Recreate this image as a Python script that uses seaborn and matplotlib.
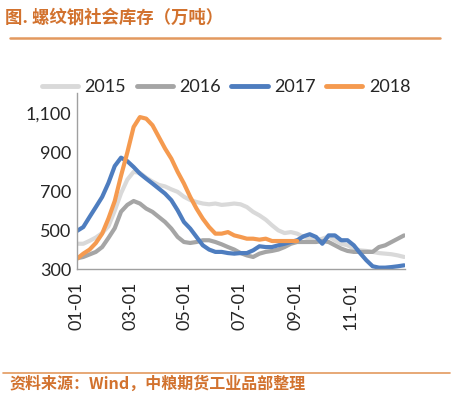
import numpy as np
import pandas as pd
import matplotlib.pyplot as plt
import matplotlib.dates as mdates
import seaborn as sns

# weekly rebar social inventory (10k tons)
v2015 = [430, 430, 445, 462, 485, 520, 600, 690, 760, 800, 795, 770, 750, 733, 725, 710, 697, 672,
         655, 645, 637, 633, 637, 630, 633, 637, 633, 619, 594, 576, 554, 525, 499, 485, 490, 482,
         465, 456, 448, 456, 468, 448, 430, 422, 405, 396, 393, 388, 382, 379, 376, 370, 362]
v2016 = [355, 362, 375, 388, 413, 460, 510, 595, 630, 650, 637, 611, 594, 568, 542, 508, 465, 439,
         434, 439, 448, 448, 439, 427, 413, 400, 382, 370, 362, 379, 388, 393, 400, 413, 430, 439,
         439, 439, 439, 444, 439, 422, 405, 393, 388, 388, 388, 388, 413, 422, 439, 456, 473]
v2017 = [496, 516, 568, 619, 671, 743, 830, 873, 855, 825, 791, 765, 740, 714, 688, 654, 602, 542,
         508, 465, 422, 400, 388, 388, 382, 379, 382, 382, 396, 417, 413, 413, 422, 430, 439, 448,
         468, 479, 465, 430, 473, 473, 448, 448, 422, 382, 345, 314, 307, 307, 310, 314, 319]
v2018 = [353, 379, 400, 434, 482, 560, 650, 780, 900, 1031, 1082, 1074, 1040, 980, 920, 868, 800,
         740, 671, 611, 559, 516, 482, 482, 490, 473, 465, 456, 456, 451, 456, 444, 444, 444, 444, 444]

years = ["2015", "2016", "2017", "2018"]
colors = ["#D9D9D9", "#A5A5A5", "#4E7DBF", "#F59A4F"]
tick_labels = ["01-01", "03-01", "05-01", "07-01", "09-01", "11-01", ""]

weeks = pd.date_range("2018-01-01", periods=53, freq="7D")
rows = []
for yr, vals in zip(years, [v2015, v2016, v2017, v2018]):
    for d, v in zip(weeks, vals):
        rows.append({"date": d, "value": v, "year": yr})
df = pd.DataFrame(rows)

sns.set_style("white")
plt.rcParams["font.family"] = ["Lato", "Noto Sans CJK SC", "DejaVu Sans"]

fig = plt.figure(figsize=(4.53, 3.97), dpi=100)
ax = fig.add_axes([77/453, 1-269/397, 328/453, 176/397])

sns.lineplot(data=df, x="date", y="value", hue="year", hue_order=years,
             palette=colors, linewidth=3, ax=ax, legend=True)

ax.set_xlim(pd.Timestamp("2018-01-01"), pd.Timestamp("2019-01-01"))
ax.set_ylim(300, 1206)
ax.set_yticks([300, 500, 700, 900, 1100])
ax.set_yticklabels(["300", "500", "700", "900", "1,100"], fontsize=13)
ticks = pd.to_datetime(["2018-01-01", "2018-03-01", "2018-05-01", "2018-07-01",
                        "2018-09-01", "2018-11-01", "2019-01-01"])
ax.set_xticks(ticks)
ax.set_xticklabels(tick_labels, rotation=90, fontsize=13)
ax.set_xlabel("")
ax.set_ylabel("")
for s in ["top", "right"]:
    ax.spines[s].set_visible(False)
for s in ["left", "bottom"]:
    ax.spines[s].set_color("#A0A0A0")
    ax.spines[s].set_linewidth(1)
ax.tick_params(axis="x", direction="out", length=5, color="#A0A0A0", width=1, pad=4)
ax.tick_params(axis="y", length=0, pad=4)

leg = ax.legend(ncol=4, loc="center", bbox_to_anchor=(226/453, 1-87/397),
                bbox_transform=fig.transFigure, frameon=False, fontsize=13,
                handlelength=2.0, handletextpad=0.35, columnspacing=0.6)
for h in leg.get_lines():
    h.set_linewidth(3.5)

orange = "#D2722E"
fig.text(5/453, 1-18/397, "图. 螺纹钢社会库存（万吨）", fontsize=12.5, color=orange,
         fontweight="bold", va="center", ha="left", family=["Noto Sans CJK SC"])
fig.add_artist(plt.Line2D([10/453, 440/453], [1-38/397, 1-38/397], color="#E3995F", lw=1.8))
fig.add_artist(plt.Line2D([3/453, 450/453], [1-373/397, 1-373/397], color="#E3995F", lw=1.2))
fig.text(9/453, 1-384/397, "资料来源：Wind，中粮期货工业品部整理", fontsize=11.5, color=orange,
         fontweight="bold", va="center", ha="left", family=["Noto Sans CJK SC"])

fig.savefig("out.png", dpi=100)
